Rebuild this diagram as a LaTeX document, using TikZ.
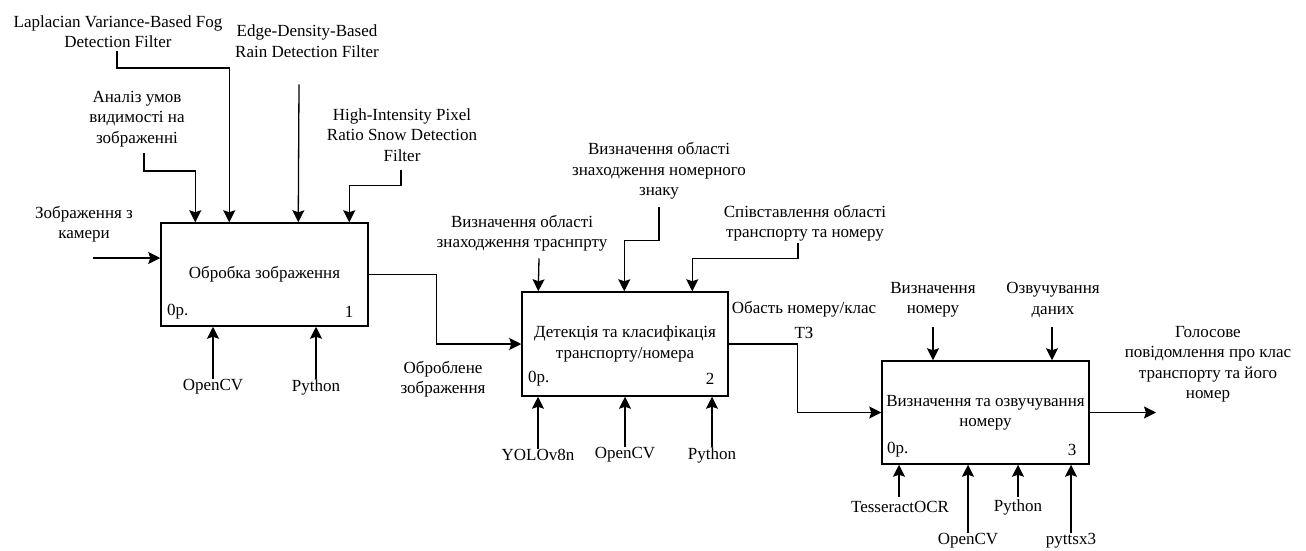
\documentclass[tikz,border=0pt]{standalone}
\usepackage{fontspec}
\setmainfont{Liberation Serif}
\usetikzlibrary{arrows.meta,calc}
\begin{document}
\begin{tikzpicture}[x=1pt,y=-1pt,
  lbl/.style={inner sep=0pt, align=center, font=\fontsize{17}{20.5}\selectfont},
  box/.style={draw, line width=1.5pt, inner sep=0pt, align=center, font=\fontsize{17}{21}\selectfont},
  arr/.style={line width=1.3pt, -{Stealth[length=12pt,width=12pt,inset=2pt]}}]
\useasboundingbox (0,0) rectangle (1306,550);
% boxes
\node[box, minimum width=207pt, minimum height=103pt] (b1) at (264.5,274.5) {Обробка зображення};
\node[box, minimum width=206pt, minimum height=104pt] (b2) at (625,344) {Детекція та класифікація\\транспорту/номера};
\node[box, minimum width=207pt, minimum height=103pt] (b3) at (985.5,412.5) {\raisebox{-2.5pt}{\begin{tabular}{@{}c@{}}Визначення та озвучування\\[-1pt]номеру\end{tabular}}};
% corner labels
\node[lbl, anchor=west] (c1a) at (167,312) {0р.};
\node[lbl] (c1b) at (349,312) {1};
\node[lbl, anchor=west] (c2a) at (528,379) {0р.};
\node[lbl] (c2b) at (710,379) {2};
\node[lbl, anchor=west] (c3a) at (887,450) {0р.};
\node[lbl] (c3b) at (1072,450) {3};
% box 1 labels
\node[lbl] (cam) at (84,224) {Зображення з\\камери};
\node[lbl] (lap) at (118,31.5) {Laplacian Variance-Based Fog\\Detection Filter};
\node[lbl] (ana) at (137,119) {Аналіз умов\\видимості на\\зображенні};
\node[lbl] (edge) at (307,41) {Edge-Density-Based\\Rain Detection Filter};
\node[lbl] (high) at (402,135) {High-Intensity Pixel\\Ratio Snow Detection\\Filter};
\node[lbl] (ocv1) at (213,387) {OpenCV};
\node[lbl] (py1) at (316,387) {Python};
\coordinate (cin) at (93,258);
\draw[arr] (cin) -- (cin -| b1.west);
\draw[arr] ($(ana.south)+(7,6)$) -- ++(0,18) -| ($(b1.north west)+(35,0)$);
\draw[arr] ($(lap.south)+(-1,3)$) -- ++(0,17) -| ($(b1.north west)+(69,0)$);
\draw[arr] ($(edge.south)+(-8,27)$) -- ($(b1.north west)+(138,0)$);
\draw[arr] ($(high.south)+(-1,8)$) -- ++(0,16) -| ($(b1.north west)+(189,0)$);
\draw[arr] (ocv1.north) -- (ocv1.north |- b1.south);
\draw[arr] (py1.north) -- (py1.north |- b1.south);
% box1 -> box2
\draw[arr] (b1.east) -- ++(68,0) |- (b2.west);
\node[lbl] (obr) at (443,379) {Оброблене\\зображення};
% box 2 labels
\node[lbl] (vtr) at (522,233) {Визначення області\\знаходження траснпрту};
\node[lbl] (vnz) at (659,171) {Визначення області\\знаходження номерного\\знаку};
\node[lbl] (spv) at (805,223) {Співставлення області\\транспорту та номеру};
\draw[arr] ($(vtr.south)+(17,7)$) -- ($(b2.north west)+(17,0)$);
\draw[arr] ($(vnz.south)+(0,7)$) -- ++(0,34) -| ($(b2.north west)+(103,0)$);
\draw[arr] ($(spv.south)+(-7,2)$) -- ++(0,15) -| ($(b2.north west)+(171,0)$);
\node[lbl] (yolo) at (538,455) {YOLOv8n};
\node[lbl] (ocv2) at (625,455) {OpenCV};
\node[lbl] (py2) at (712,455) {Python};
\draw[arr] (yolo.north) -- (yolo.north |- b2.south);
\draw[arr] (ocv2.north) -- (ocv2.north |- b2.south);
\draw[arr] (py2.north) -- (py2.north |- b2.south);
% box2 -> box3
\draw[arr] (b2.east) -- ++(69,0) |- (b3.west);
\node[lbl] (obl) at (804,320) {Обасть номеру/клас\\[4pt]ТЗ};
% box 3 labels
\node[lbl] (vn) at (933,300) {Визначення\\номеру};
\node[lbl] (oz) at (1053,300) {Озвучування\\даних};
\draw[arr] ($(vn.south)+(0,9)$) -- (vn.south |- b3.north);
\draw[arr] ($(oz.south)+(-1,9)$) -- ($(oz.south |- b3.north)+(-1,0)$);
\coordinate (end3) at (1156,412.5);
\draw[arr] (b3.east) -- (end3);
\node[lbl] (gol) at (1208,364) {Голосове\\повідомлення про клас\\транспорту та його\\номер};
\node[lbl] (tes) at (900,507) {TesseractOCR};
\node[lbl] (ocv3) at (968,541) {OpenCV};
\node[lbl] (py3) at (1018,507) {Python};
\node[lbl] (pyt) at (1071,541) {pyttsx3};
\draw[arr] ($(tes.north)+(-1,-4)$) -- ($(tes.north |- b3.south)+(-1,0)$);
\draw[arr] (ocv3.north) -- (ocv3.north |- b3.south);
\draw[arr] ($(py3.north)+(0,-2)$) -- (py3.north |- b3.south);
\draw[arr] (pyt.north) -- (pyt.north |- b3.south);
\end{tikzpicture}
\end{document}
